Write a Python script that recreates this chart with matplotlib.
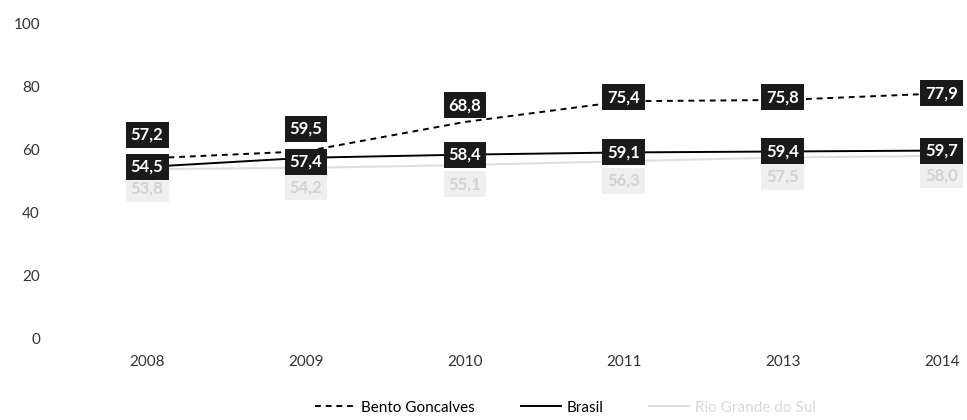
import matplotlib.pyplot as plt

plt.rcParams['font.family'] = ['Lato', 'DejaVu Sans']

years = ['2008', '2009', '2010', '2011', '2013', '2014']
bento = [57.2, 59.5, 68.8, 75.4, 75.8, 77.9]
brasil = [54.5, 57.4, 58.4, 59.1, 59.4, 59.7]
rs = [53.8, 54.2, 55.1, 56.3, 57.5, 58.0]

series_names = ['Bento Goncalves', 'Brasil', 'Rio Grande do Sul']

# label offsets in points (style, not data)
bento_dy = [17, 16, 12, 3, 2, 0]
brasil_dy = [0, -3, 0, 0, 0, 0]
rs_dy = [-14, -14, -14, -14, -14, -14]

fig = plt.figure(figsize=(9.67, 4.2), dpi=100)
ax = fig.add_axes([0.07, 0.195, 0.93, 0.748])

x = list(range(len(years)))
ax.plot(x, rs, color='#dedede', lw=1.5, label=series_names[2], zorder=1)
ax.plot(x, brasil, color='black', lw=1.4, label=series_names[1], zorder=2)
ax.plot(x, bento, color='black', lw=1.4, ls=(0, (3, 2.5)), label=series_names[0], zorder=2)

def labels(vals, dys, fc, tc):
    for xi, v, dy in zip(x, vals, dys):
        ax.annotate(f'{v:.1f}'.replace('.', ','), (xi, v), xytext=(0, dy),
                    textcoords='offset points', ha='center', va='center',
                    fontsize=12, fontweight='bold', color=tc, zorder=5,
                    bbox=dict(boxstyle='square,pad=0.3', fc=fc, ec='none'))

labels(rs, rs_dy, '#efefef', '#d2d2d2')
labels(brasil, brasil_dy, '#1a1a1a', 'white')
labels(bento, bento_dy, '#1a1a1a', 'white')

ax.set_xlim(-0.5, 5.16)
ax.set_ylim(0, 100)
ax.set_yticks(range(0, 101, 20))
ax.set_xticks(x)
ax.set_xticklabels(years)
ax.tick_params(length=0, labelsize=11, colors='#333333')
ax.tick_params(axis='y', pad=20)
ax.tick_params(axis='x', pad=12)
for s in ax.spines.values():
    s.set_visible(False)

h, l = ax.get_legend_handles_labels()
leg = fig.legend(h[::-1], l[::-1], loc='lower center', bbox_to_anchor=(0.585, -0.02),
                 ncol=3, frameon=False, fontsize=11, handlelength=2.6,
                 columnspacing=3.0, handletextpad=0.4)
leg.get_texts()[2].set_color('#d8d8d8')

fig.savefig('out.png', dpi=100)
